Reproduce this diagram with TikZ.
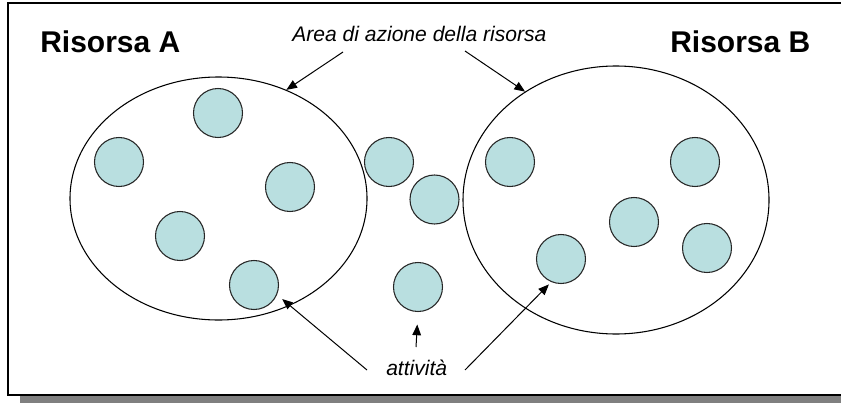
\documentclass[tikz,border=0pt]{standalone}
\usepackage{fontspec}
\setmainfont{Liberation Sans}
\usetikzlibrary{arrows.meta, shapes.geometric}
\definecolor{mTeal}{HTML}{B9DFE0}
\definecolor{mShadow}{HTML}{808080}

\begin{document}
\begin{tikzpicture}[x=0.75pt, y=-0.75pt,
    act/.style={circle, draw=black!85, fill=mTeal, line width=0.8pt,
      minimum size=36.75pt, inner sep=0pt},
    area/.style={ellipse, draw, line width=0.8pt, inner sep=0pt},
    arr/.style={-{Triangle[length=8pt, width=6.5pt]}, line width=0.75pt},
    lbl/.style={font=\fontsize{15.8}{19}\selectfont\itshape, inner sep=0pt, anchor=base west},
    res/.style={font=\fontsize{22.5}{27}\selectfont\bfseries, inner sep=0pt, anchor=base west}]
  \clip (0,0) rectangle (841,403);
  % frame with its shadow
  \fill[mShadow] (20,396) rectangle (850,403);
  \draw[line width=1.3pt] (8,3) rectangle (850,395);
  % areas of the two resources
  \node[area, minimum width=222.75pt, minimum height=182.25pt] (ellA) at (218.5,198.5) {};
  \node[area, minimum width=229.5pt, minimum height=201pt] (ellB) at (616,200) {};
  % activities
  \foreach \id/\x/\y in {a1/218/113, a2/119/162, a3/290/187, a4/180/236, a5/254/285,
      m1/389/162, m2/434.5/199.5, m3/418/287,
      b1/510/162, b2/695/162, b3/634/222, b4/707/248, b5/561/259}
    \node[act] (\id) at (\x,\y) {};
  % labels
  \node[res] (resA) at (40,53) {Risorsa A};
  \node[res] (resB) at (670,53) {Risorsa B};
  \node[lbl] (areaLbl) at (292,41) {Area di azione della risorsa};
  \node[lbl] (attLbl) at (386,375) {attività};
  % pointers
  \coordinate (t1) at (343,52);
  \coordinate (t2) at (465,51);
  \coordinate (t3) at (367,370);
  \coordinate (t4) at (416,347);
  \coordinate (t5) at (465,370);
  \draw[arr] (t1) -- (ellA.58);
  \draw[arr] (t2) -- (ellB.130);
  \draw[arr, shorten >=5pt] (t3) -- (a5.-23);
  \draw[arr, shorten >=9.4pt] (t4) -- (m3.south);
  \draw[arr, shorten >=2.5pt] (t5) -- (b5.247);
\end{tikzpicture}
\end{document}
